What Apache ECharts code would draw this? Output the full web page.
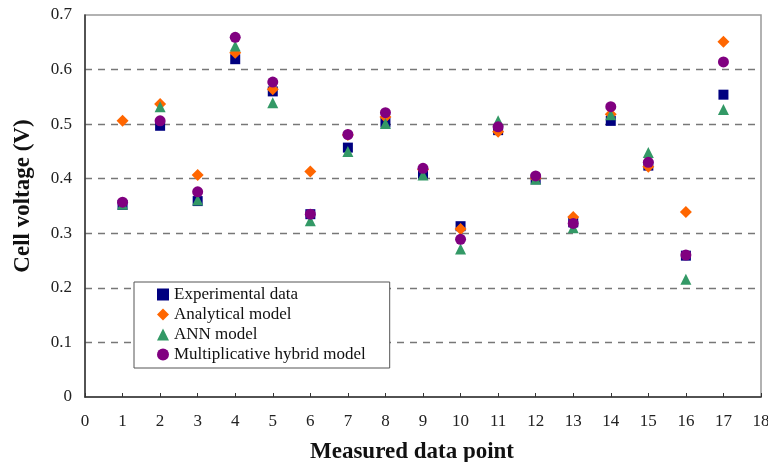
<!DOCTYPE html>
<html><head><meta charset="utf-8">
<script src="https://cdn.jsdelivr.net/npm/echarts@6/dist/echarts.min.js"></script>
<style>html,body{margin:0;padding:0;background:#fff}#c{width:768px;height:462px}</style>
</head><body><div id="c"></div>
<script>
const points = [1,2,3,4,5,6,7,8,9,10,11,12,13,14,15,16,17];
const experimental = [0.352,0.497,0.359,0.619,0.560,0.335,0.457,0.503,0.409,0.313,0.489,0.399,0.320,0.506,0.424,0.259,0.554];
const analytical   = [0.506,0.537,0.407,0.631,0.564,0.413,0.480,0.513,0.417,0.308,0.486,0.401,0.330,0.518,0.422,0.339,0.651];
const ann          = [0.353,0.532,0.361,0.643,0.539,0.323,0.450,0.501,0.407,0.271,0.506,0.399,0.310,0.517,0.448,0.216,0.527];
const hybrid       = [0.357,0.506,0.376,0.659,0.577,0.335,0.481,0.521,0.419,0.289,0.495,0.405,0.318,0.532,0.430,0.260,0.614];
const xTicks = [0,1,2,3,4,5,6,7,8,9,10,11,12,13,14,15,16,17,18];
const yTicks = [0,0.1,0.2,0.3,0.4,0.5,0.6,0.7];
const names = ['Experimental data','Analytical model','ANN model','Multiplicative hybrid model'];
const colors = ['#000080','#FF6600','#339966','#800080'];
const symbols = ['rect','diamond','triangle','circle'];
const sizes = [10,12,11,11];
const values = [experimental, analytical, ann, hybrid];
const font = '"Liberation Serif","Times New Roman",serif';

const chart = echarts.init(document.getElementById('c'));
chart.setOption({
  animation:false,
  backgroundColor:'#fff',
  grid:{left:85,right:7,top:15,bottom:65,outerBoundsMode:'none',containLabel:false,show:true,borderColor:'#999',borderWidth:1.5},
  legend:{
    orient:'vertical', left:134, top:282, itemGap:3, itemWidth:12, itemHeight:12,
    padding:[4,24,5,23], borderColor:'#555', borderWidth:1, backgroundColor:'#fff',
    textStyle:{fontFamily:font,fontSize:17,color:'#111'},
    data:names.map((n,i)=>({name:n,icon:symbols[i]}))
  },
  xAxis:{
    type:'value', min:0, max:18, interval:1,
    name:'Measured data point', nameLocation:'middle', nameGap:44,
    nameTextStyle:{fontFamily:font,fontSize:23,fontWeight:'bold',color:'#111',padding:[0,22,0,0]},
    axisLine:{onZero:false,lineStyle:{color:'#333',width:1.5}},
    axisTick:{inside:true,length:4,lineStyle:{color:'#333'}},
    axisLabel:{fontFamily:font,fontSize:17,color:'#222',margin:16,formatter:v=>xTicks.includes(v)?String(v):''},
    splitLine:{show:false}
  },
  yAxis:{
    type:'value', min:0, max:0.7, interval:0.1,
    name:'Cell voltage (V)', nameLocation:'middle', nameGap:50,
    nameTextStyle:{fontFamily:font,fontSize:23,fontWeight:'bold',color:'#111',padding:[0,0,0,20]},
    axisLine:{show:true,lineStyle:{color:'#333',width:1.5}},
    axisTick:{show:false},
    axisLabel:{fontFamily:font,fontSize:17,color:'#222',margin:13,
      formatter:v=>{const t=yTicks.find(k=>Math.abs(k-v)<1e-9);return t===undefined?'':(t===0?'0':t.toFixed(1));}},
    splitLine:{show:true,showMinLine:false,showMaxLine:false,lineStyle:{color:'#777',type:[7,6],width:1.3}}
  },
  series:values.map((vals,i)=>({
    name:names[i], type:'scatter', symbol:symbols[i], symbolSize:sizes[i],
    itemStyle:{color:colors[i],opacity:1},
    data:points.map((p,j)=>[p,vals[j]])
  }))
});
</script></body></html>
